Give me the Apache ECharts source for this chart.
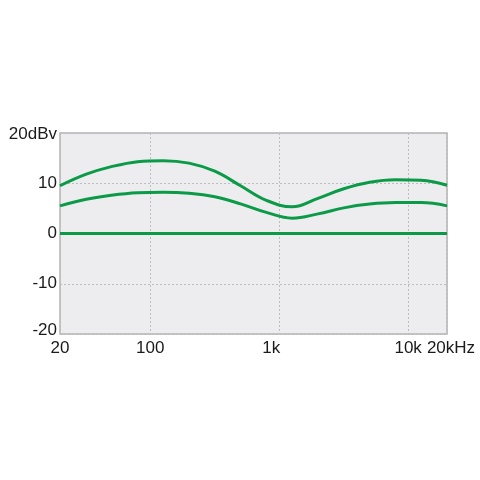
<!DOCTYPE html>
<html><head><meta charset="utf-8">
<script src="https://cdn.jsdelivr.net/npm/echarts@6/dist/echarts.min.js"></script>
<style>html,body{margin:0;padding:0;background:#fff}#c{width:480px;height:480px}</style>
</head><body><div id="c"></div>
<script>
const freqs = [20, 32, 50, 80, 126, 200, 317, 502, 796, 1262, 2000, 3170, 5024, 7962, 12619, 20000];
const upper = [9.5, 11.8, 13.3, 14.3, 14.5, 14.0, 12.4, 9.5, 6.6, 5.3, 7.0, 8.9, 10.2, 10.7, 10.6, 9.6];
const lower = [5.5, 6.8, 7.6, 8.1, 8.2, 8.0, 7.3, 5.9, 4.2, 3.05, 3.9, 5.1, 5.85, 6.15, 6.15, 5.5];
const flat  = [0, 0, 0, 0, 0, 0, 0, 0, 0, 0, 0, 0, 0, 0, 0, 0];
const xTicks = [20, 100, 1000, 10000, 20000];
const xTickLabels = ['20', '100', '1k', '10k', '20kHz'];
const yTicks = [-20, -10, 0, 10, 20];
const yTickLabels = ['-20', '-10', '0', '10', '20dBv'];

const pair = arr => freqs.map((f, i) => [f, arr[i]]);
const green = '#0b9a47';
const font = 'Liberation Sans, Arial, sans-serif';
const chart = echarts.init(document.getElementById('c'));
chart.setOption({
  animation: false,
  grid: {left: 60, right: 33, top: 133, bottom: 146, show: true, backgroundColor: '#ededef', borderColor: '#b4b4b4', borderWidth: 1.5},
  xAxis: {
    type: 'log', logBase: 10, min: 20, max: 20000,
    axisLine: {show: false}, axisTick: {show: false},
    splitLine: {show: true, lineStyle: {color: '#bdbdbd', type: [2, 2], width: 1}},
    axisLabel: {
      customValues: xTicks, margin: 6, fontSize: 17, color: '#1a1a1a', fontFamily: font,
      formatter: v => {
        const i = xTicks.findIndex(t => Math.abs(t - v) / t < 1e-6);
        const s = i >= 0 ? xTickLabels[i] : '';
        if (s === '1k') return '{k|' + s + '}';
        if (s === '20kHz') return '{r|' + s + '}';
        return s;
      },
      rich: {
        k: {fontSize: 17, color: '#1a1a1a', fontFamily: font, padding: [0, 16, 0, 0]},
        r: {fontSize: 17, color: '#1a1a1a', fontFamily: font, padding: [0, 0, 0, 8]}
      }
    }
  },
  yAxis: {
    type: 'value', min: -20, max: 20, interval: 10,
    axisLine: {show: false}, axisTick: {show: false},
    splitLine: {show: true, lineStyle: {color: '#bdbdbd', type: [2, 2], width: 1}},
    axisLabel: {
      margin: 3, fontSize: 17, color: '#1a1a1a', fontFamily: font,
      formatter: v => {
        const i = yTicks.indexOf(v);
        if (i < 0) return '';
        if (v === -20) return '{b|' + yTickLabels[i] + '}';
        if (v === 20) return '{t|' + yTickLabels[i] + '}';
        return yTickLabels[i];
      },
      rich: {
        b: {fontSize: 17, color: '#1a1a1a', fontFamily: font, padding: [0, 0, 8, 0]},
        t: {fontSize: 17, color: '#1a1a1a', fontFamily: font, padding: [3, 0, 0, 0]}
      }
    }
  },
  series: [
    {type: 'line', data: pair(flat), showSymbol: false, lineStyle: {color: green, width: 3}, z: 3},
    {type: 'line', data: pair(lower), smooth: 0.4, showSymbol: false, lineStyle: {color: green, width: 3}},
    {type: 'line', data: pair(upper), smooth: 0.4, showSymbol: false, lineStyle: {color: green, width: 3}}
  ]
});
</script></body></html>
